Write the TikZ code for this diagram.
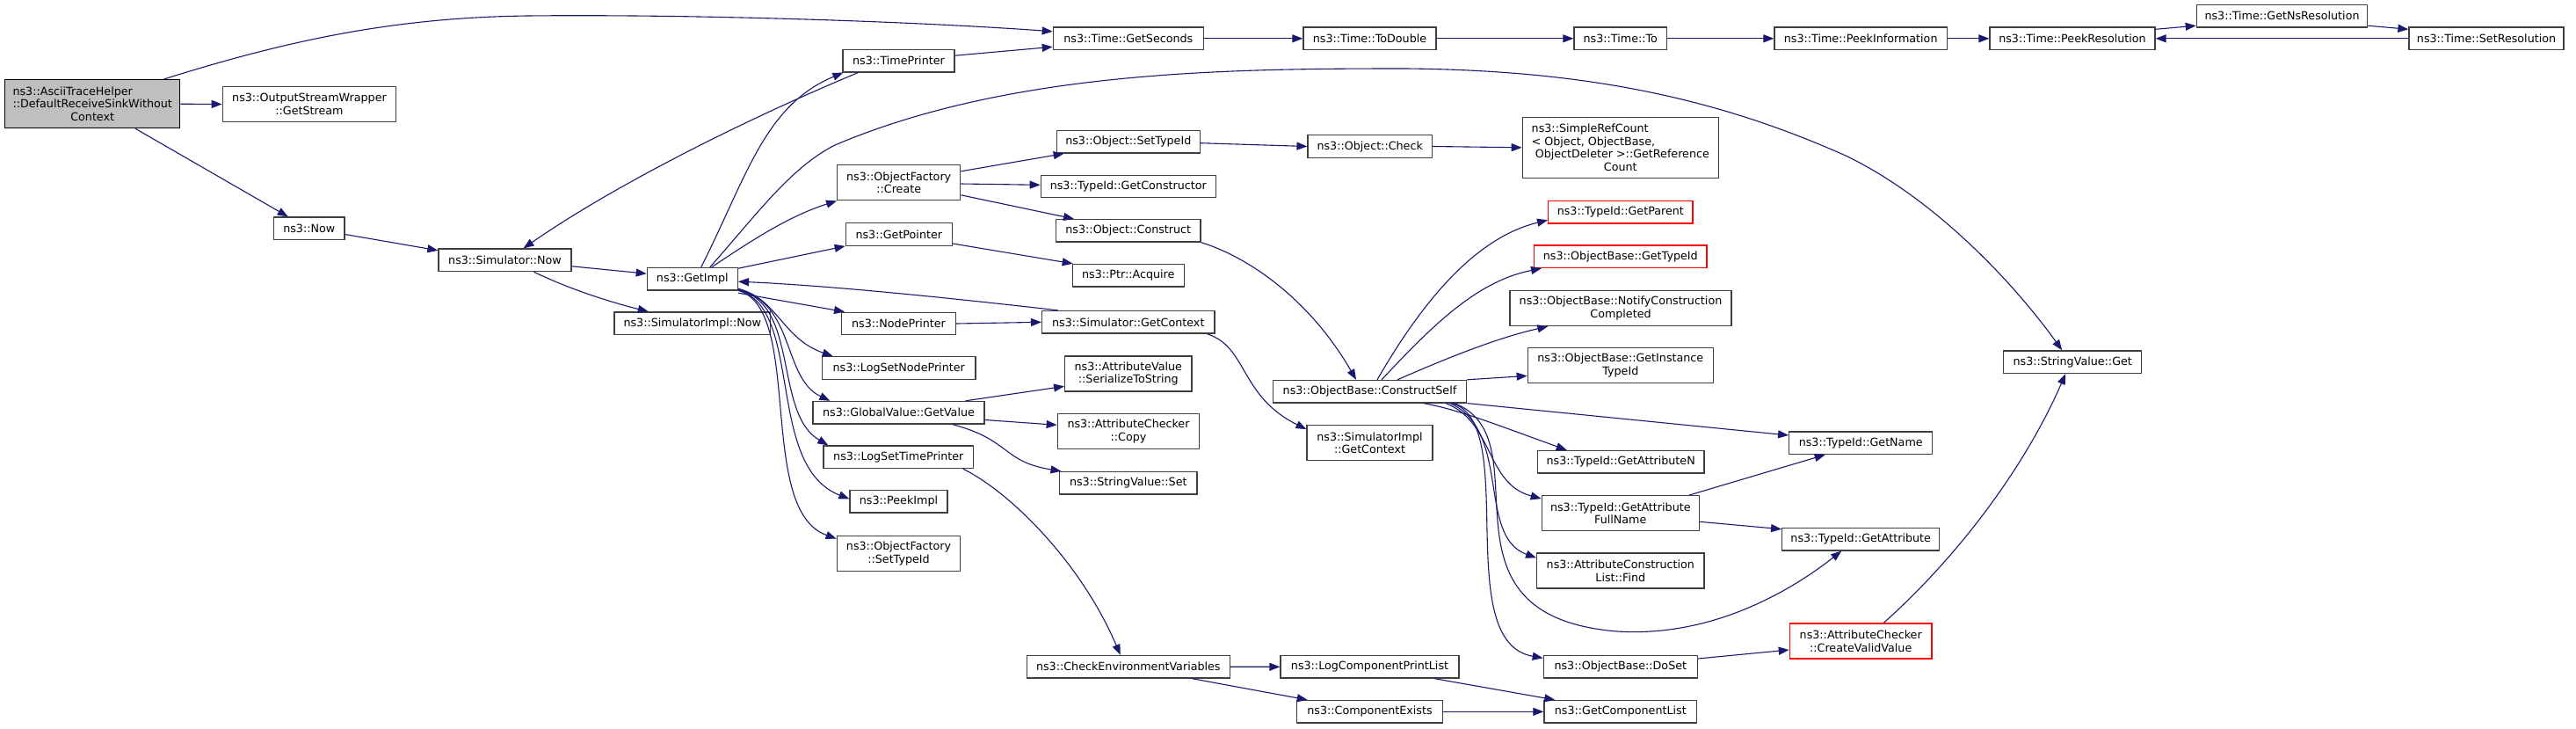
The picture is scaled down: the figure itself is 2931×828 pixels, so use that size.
\documentclass[tikz,border=0pt]{standalone}
\usepackage{fontspec}
\newfontfamily\dvs{DejaVu Sans}
\usetikzlibrary{arrows.meta}
\definecolor{edgeblue}{HTML}{191970}
\definecolor{boxgray}{HTML}{404040}
\definecolor{rootfill}{HTML}{BFBFBF}
\definecolor{redb}{HTML}{FF0000}
\newcommand\lfirst[2]{\rlap{#1}\phantom{#2}}
\begin{document}
\begin{tikzpicture}[x=1pt,y=-1pt,
  box/.style={draw=boxgray, line width=1.3pt, fill=white, inner sep=0pt, align=center,
    font={\dvs\fontsize{12.7pt}{14.8pt}\selectfont}, minimum height=25.5pt},
  two/.style={minimum height=40pt},
  redbox/.style={draw=redb},
  lnk/.style={draw=edgeblue, line width=1.1pt, -{Triangle[length=12pt,width=9pt]}}]
\useasboundingbox[fill=white] (0,0) rectangle (2931,828);

% nodes
\node[box, draw=black, fill=rootfill, minimum width=199pt, minimum height=55pt] (root) at (105.2,118.2)
  {\lfirst{ns3::AsciiTraceHelper}{::DefaultReceiveSinkWithout}\\::DefaultReceiveSinkWithout\\Context};
\node[box, two, minimum width=197.4pt] (gstream) at (352,118.5) {ns3::OutputStreamWrapper\\::GetStream};
\node[box, minimum width=80.3pt] (now) at (351.8,259.8) {ns3::Now};
\node[box, minimum width=151pt] (simnow) at (574.5,295.8) {ns3::Simulator::Now};
\node[box, minimum width=103pt] (getimpl) at (787.8,317.2) {ns3::GetImpl};
\node[box, minimum width=177.7pt] (siminow) at (787.8,367.7) {ns3::SimulatorImpl::Now};
\node[box, minimum width=127pt] (tp) at (1022.5,69.2) {ns3::TimePrinter};
\node[box, two, minimum width=140pt] (ofc) at (1022.7,207.8) {ns3::ObjectFactory\\::Create};
\node[box, minimum width=121pt] (gp) at (1022.8,266.5) {ns3::GetPointer};
\node[box, minimum width=129.6pt] (np) at (1022.5,368) {ns3::NodePrinter};
\node[box, minimum width=174.7pt] (lsnp) at (1022.7,418.5) {ns3::LogSetNodePrinter};
\node[box, minimum width=195pt] (gv) at (1022.5,469.2) {ns3::GlobalValue::GetValue};
\node[box, minimum width=170.7pt] (lstp) at (1022.3,519.7) {ns3::LogSetTimePrinter};
\node[box, minimum width=111pt] (pki) at (1022.5,570.3) {ns3::PeekImpl};
\node[box, two, minimum width=140.4pt] (ofst) at (1022.5,629.2) {ns3::ObjectFactory\\::SetTypeId};
\node[box, minimum width=171pt] (gs) at (1283.8,43.8) {ns3::Time::GetSeconds};
\node[box, minimum width=163pt] (osti) at (1283.8,161.2) {ns3::Object::SetTypeId};
\node[box, minimum width=199pt] (gc) at (1283.8,212) {ns3::TypeId::GetConstructor};
\node[box, minimum width=164.3pt] (oc) at (1283.8,262.3) {ns3::Object::Construct};
\node[box, minimum width=127pt] (acq) at (1283.8,313.2) {ns3::Ptr::Acquire};
\node[box, minimum width=196.3pt] (gctx) at (1283.8,366.3) {ns3::Simulator::GetContext};
\node[box, two, minimum width=144.3pt] (sts) at (1283.8,425) {ns3::AttributeValue\\::SerializeToString};
\node[box, two, minimum width=161.4pt] (acc) at (1284,490.5) {ns3::AttributeChecker\\::Copy};
\node[box, minimum width=156.3pt] (svs) at (1283.8,549.2) {ns3::StringValue::Set};
\node[box, minimum width=231pt] (cev) at (1283.8,758.2) {ns3::CheckEnvironmentVariables};
\node[box, minimum width=151pt] (td) at (1558.5,43.8) {ns3::Time::ToDouble};
\node[box, minimum width=141.3pt] (ochk) at (1558.7,166.5) {ns3::Object::Check};
\node[box, minimum width=220.4pt] (cs) at (1558.5,445.2) {ns3::ObjectBase::ConstructSelf};
\node[box, two, minimum width=143pt] (sigc) at (1558.5,503.8) {ns3::SimulatorImpl\\::GetContext};
\node[box, minimum width=203pt] (lcpl) at (1558.5,758.3) {ns3::LogComponentPrintList};
\node[box, minimum width=165.6pt] (cex) at (1558.5,809.3) {ns3::ComponentExists};
\node[box, minimum width=105.7pt] (to) at (1843.8,43.8) {ns3::Time::To};
\node[box, minimum width=223pt, minimum height=69pt] (src) at (1843.8,167.8)
  {\lfirst{ns3::SimpleRefCount}{\hspace*{0.318em}ObjectDeleter >::GetReference}\\
   \lfirst{< Object, ObjectBase,}{\hspace*{0.318em}ObjectDeleter >::GetReference}\\
   \hspace*{0.318em}ObjectDeleter >::GetReference\\Count};
\node[box, redbox, minimum width=164.3pt] (gpar) at (1843.8,241.3) {ns3::TypeId::GetParent};
\node[box, redbox, minimum width=196.3pt] (gti) at (1843.8,291.7) {ns3::ObjectBase::GetTypeId};
\node[box, two, minimum width=252pt] (ncc) at (1844,350.5) {ns3::ObjectBase::NotifyConstruction\\Completed};
\node[box, two, minimum width=211pt] (git) at (1843.8,415.7) {ns3::ObjectBase::GetInstance\\TypeId};
\node[box, minimum width=189.7pt] (gan) at (1844.2,525.2) {ns3::TypeId::GetAttributeN};
\node[box, two, minimum width=179pt] (gafn) at (1843.8,583.7) {ns3::TypeId::GetAttribute\\FullName};
\node[box, two, minimum width=190.3pt] (aclf) at (1843.8,649) {ns3::AttributeConstruction\\List::Find};
\node[box, minimum width=175pt] (doset) at (1843.8,758.3) {ns3::ObjectBase::DoSet};
\node[box, minimum width=173.7pt] (gcl) at (1843.8,809.3) {ns3::GetComponentList};
\node[box, minimum width=196.3pt] (pinf) at (2117.2,43.8) {ns3::Time::PeekInformation};
\node[box, minimum width=163pt] (gn) at (2117.2,503.7) {ns3::TypeId::GetName};
\node[box, minimum width=179pt] (ga) at (2117.2,613.2) {ns3::TypeId::GetAttribute};
\node[box, two, redbox, minimum width=161.7pt] (cvv) at (2117.2,729) {ns3::AttributeChecker\\::CreateValidValue};
\node[box, minimum width=188pt] (pres) at (2358,43.8) {ns3::Time::PeekResolution};
\node[box, minimum width=157pt] (svg) at (2358.2,411.7) {ns3::StringValue::Get};
\node[box, minimum width=194.4pt] (gnr) at (2596.5,18.2) {ns3::Time::GetNsResolution};
\node[box, minimum width=176pt] (sr) at (2829,43.8) {ns3::Time::SetResolution};

% edges
\draw[lnk] ([xshift=-19pt]root.north east) .. controls (330,45) and (450,20) .. (600,18)
  .. controls (800,16) and (1050,25) .. ([yshift=8pt]gs.west);
\draw[lnk] (root.east) -- (gstream.west);
\draw[lnk] ([xshift=49pt]root.south) -- ([xshift=-24pt]now.north);
\draw[lnk] ([yshift=-6.7pt]now.east) -- ([yshift=11pt]simnow.west);
\draw[lnk] ([yshift=-7pt]simnow.east) -- ([yshift=6pt]getimpl.west);
\draw[lnk] ([xshift=33pt]simnow.south) .. controls (650,330) and (700,345) .. ([xshift=-50pt]siminow.north);
\draw[lnk] ([xshift=10pt]getimpl.north) .. controls (850,200) and (870,120) .. ([xshift=1pt]tp.south west);
\draw[lnk] ([xshift=20pt]getimpl.north) .. controls (860,245) and (900,190) .. (950,165)
  .. controls (1150,80) and (1400,78) .. (1600,78)
  .. controls (1800,80) and (1950,110) .. (2100,177)
  .. controls (2200,225) and (2290,320) .. ([xshift=-12pt]svg.north);
\draw[lnk] ([xshift=22pt]getimpl.north) .. controls (860,270) and (900,245) .. (ofc.south west);
\draw[lnk] ([yshift=12pt]getimpl.east) -- (gp.south west);
\draw[lnk] ([xshift=-80pt]gctx.north) .. controls (1100,341) and (950,325) .. ([yshift=-3pt]getimpl.east);
\draw[lnk] ([yshift=-16pt]getimpl.east) -- ([xshift=4pt]np.north west);
\draw[lnk] ([yshift=-11pt]getimpl.east) .. controls (885,340) and (890,385) .. ([xshift=13pt]lsnp.north west);
\draw[lnk] ([yshift=-12pt]getimpl.east) .. controls (905,345) and (890,430) .. ([xshift=20pt]gv.north west);
\draw[lnk] ([yshift=-12.5pt]getimpl.east) .. controls (910,345) and (880,470) .. ([xshift=6pt]lstp.north west);
\draw[lnk] ([yshift=-13pt]getimpl.east) .. controls (915,350) and (870,530) .. ([yshift=3pt]pki.west);
\draw[lnk] ([yshift=-13pt]getimpl.east) .. controls (915,352) and (860,580) .. ([yshift=-4pt]ofst.north west);
\draw[lnk] ([xshift=18pt]tp.south west) .. controls (850,135) and (700,210) .. ([xshift=21pt]simnow.north);
\draw[lnk] ([yshift=6pt]tp.east) -- ([yshift=-9.5pt]gs.west);
\draw[lnk] (np.east) -- (gctx.west);
\draw[lnk] ([yshift=13pt]ofc.east) -- ([xshift=9pt]osti.south west);
\draw[lnk] ([yshift=-1.2pt]ofc.east) -- ([yshift=1.7pt]gc.west);
\draw[lnk] ([yshift=-14pt]ofc.east) -- ([xshift=21pt]oc.north west);
\draw[lnk] ([yshift=-10.5pt]gp.east) -- ([xshift=1pt]acq.north west);
\draw[lnk] ([xshift=-9pt]gctx.south east) .. controls (1420,395) and (1410,450) .. ([yshift=-5pt]sigc.north west);
\draw[lnk] ([yshift=-1.5pt]osti.east) -- (ochk.west);
\draw[lnk] (ochk.east) -- (src.west);
\draw[lnk] (oc.south east) .. controls (1420,292) and (1490,340) .. ([xshift=-15.5pt]cs.north);
\draw[lnk] ([xshift=-22pt]gv.north east) -- ([yshift=-14.3pt]sts.west);
\draw[lnk] ([yshift=-8.3pt]gv.east) -- ([yshift=7.2pt]acc.west);
\draw[lnk] ([xshift=61pt]gv.south) .. controls (1150,500) and (1140,525) .. ([xshift=2.5pt]svs.north west);
\draw[lnk] ([xshift=-12.7pt]lstp.south east) .. controls (1150,560) and (1230,640) .. ([xshift=-9pt]cev.north);
\draw[lnk] (cev.east) -- (lcpl.west);
\draw[lnk] ([xshift=-44pt]cev.south east) -- ([xshift=12.7pt]cex.north west);
\draw[lnk] ([xshift=-28.3pt]lcpl.south east) -- ([xshift=13pt]gcl.north west);
\draw[lnk] (cex.east) -- (gcl.west);
\draw[lnk] (gs.east) -- (td.west);
\draw[lnk] (td.east) -- (to.west);
\draw[lnk] (to.east) -- (pinf.west);
\draw[lnk] (pinf.east) -- (pres.west);
\draw[lnk] ([yshift=10.5pt]pres.east) -- ([yshift=-11pt]gnr.west);
\draw[lnk] ([yshift=-11pt]gnr.east) -- ([yshift=10.5pt]sr.west);
\draw[lnk] (sr.west) -- (pres.east);
\draw[lnk] ([xshift=8.5pt]cs.north) .. controls (1620,340) and (1680,270) .. ([yshift=-9pt]gpar.west);
\draw[lnk] ([xshift=13.5pt]cs.north) .. controls (1630,370) and (1680,320) .. ([xshift=9pt]gti.south west);
\draw[lnk] ([xshift=31.5pt]cs.north) .. controls (1640,410) and (1700,385) .. ([xshift=44pt]ncc.south west);
\draw[lnk] (cs.north east) -- ([yshift=-11.7pt]git.west);
\draw[lnk] (cs.south east) -- ([yshift=8.7pt]gn.west);
\draw[lnk] ([xshift=61.5pt]cs.south) .. controls (1660,466) and (1700,482) .. ([xshift=34pt]gan.north west);
\draw[lnk] ([xshift=86.5pt]cs.south) .. controls (1700,480) and (1690,550) .. ([yshift=-4pt]gafn.north west);
\draw[lnk] ([xshift=91.5pt]cs.south) .. controls (1720,490) and (1680,610) .. ([yshift=-6pt]aclf.north west);
\draw[lnk] ([xshift=96.5pt]cs.south) .. controls (1760,500) and (1620,700) .. (1840,718)
  .. controls (1950,725) and (2040,670) .. ([xshift=-22pt]ga.south);
\draw[lnk] ([xshift=93.5pt]cs.south) .. controls (1730,480) and (1650,730) .. ([yshift=10pt]doset.west);
\draw[lnk] ([xshift=-12pt]gafn.north east) -- ([xshift=-40.5pt]gn.south);
\draw[lnk] ([yshift=-9.6pt]gafn.east) -- ([yshift=11.5pt]ga.west);
\draw[lnk] ([yshift=9.3pt]doset.east) -- ([yshift=-10pt]cvv.west);
\draw[lnk] ([xshift=26pt]cvv.north) .. controls (2220,640) and (2300,540) .. ([xshift=-8pt]svg.south);
\end{tikzpicture}
\end{document}
